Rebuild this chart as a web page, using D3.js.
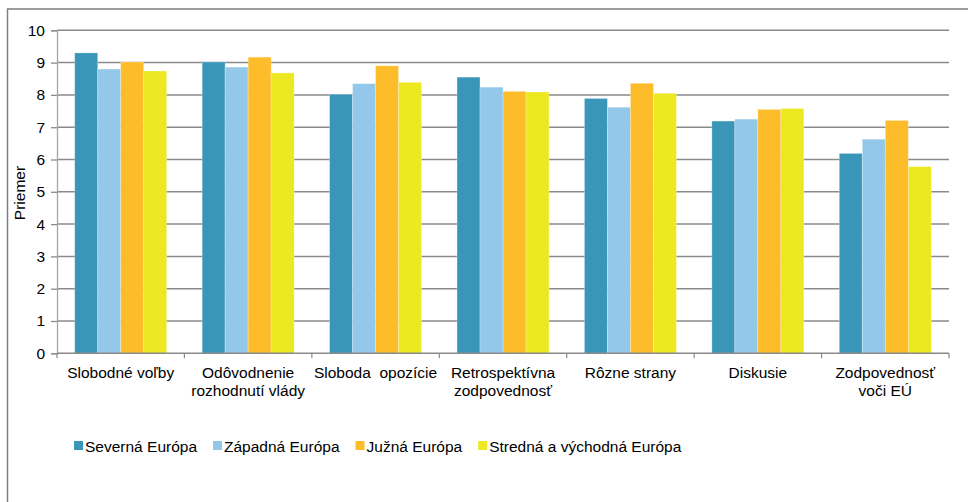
<!DOCTYPE html>
<html><head><meta charset="utf-8">
<script src="https://cdn.jsdelivr.net/npm/d3@7"></script>
<style>body{margin:0;background:#fff;}svg{display:block;font-family:"Liberation Sans",Arial,sans-serif;}text{white-space:pre;}</style>
</head><body>
<svg id="c" width="968" height="502"></svg>
<script>
const categories = [["Slobodné voľby"],["Odôvodnenie","rozhodnutí vlády"],["Sloboda  opozície"],["Retrospektívna","zodpovednosť"],["Rôzne strany"],["Diskusie"],["Zodpovednosť","voči EÚ"]];
const seriesNames = ["Severná Európa","Západná Európa","Južná Európa","Stredná a východná Európa"];
const severna  = [9.30, 9.02, 8.02, 8.55, 7.89, 7.19, 6.19];
const zapadna  = [8.80, 8.86, 8.35, 8.24, 7.62, 7.25, 6.63];
const juzna    = [9.02, 9.17, 8.90, 8.11, 8.36, 7.55, 7.21];
const stredna  = [8.74, 8.68, 8.39, 8.09, 8.05, 7.58, 5.78];
const yTicks = [0,1,2,3,4,5,6,7,8,9,10];
const colors = ["#3A96B8","#93C8EA","#FDBC2A","#ECE822"];
const series = [severna, zapadna, juzna, stredna];

const svg = d3.select("#c");
svg.append("rect").attr("x",7.5).attr("y",9).attr("width",1000).attr("height",600)
  .attr("fill","none").attr("stroke","#7f7f7f").attr("stroke-width",1.5);

const L=57, R=949, T=30.3, B=353.3;
const FS = 15.5;
const y = d3.scaleLinear().domain([0,10]).range([B,T]);
const keys = categories.map((c,i)=>i);
const x0 = d3.scaleBand().domain(keys).range([L,R]).paddingInner(0.278).paddingOuter(0.139);
const x1 = d3.scaleBand().domain(d3.range(4)).range([0,x0.bandwidth()]);

svg.append("g").selectAll("line").data(yTicks.filter(d=>d>0)).join("line")
  .attr("x1",L).attr("x2",R).attr("y1",d=>y(d)).attr("y2",d=>y(d))
  .attr("stroke","#8a8a8a").attr("stroke-width",1.5);

const g = svg.append("g");
keys.forEach(i=>{
  series.forEach((s,j)=>{
    g.append("rect").attr("x",x0(i)+x1(j)).attr("y",y(s[i]))
      .attr("width",x1.bandwidth()).attr("height",B-y(s[i]))
      .attr("fill",colors[j]).attr("stroke","rgba(255,255,255,0.35)").attr("stroke-width",0.8);
  });
});

const ya = svg.append("g").attr("transform",`translate(${L},0)`)
  .call(d3.axisLeft(y).tickValues(yTicks).tickSize(6).tickPadding(6));
ya.select(".domain").attr("stroke","#a6a6a6").attr("stroke-width",1.3);
ya.selectAll(".tick line").attr("stroke","#8a8a8a").attr("stroke-width",1.3);
ya.selectAll("text").attr("font-size",FS).attr("fill","#000").attr("font-family","Liberation Sans, Arial");

svg.append("line").attr("x1",L).attr("x2",R).attr("y1",B).attr("y2",B).attr("stroke","#8a8a8a").attr("stroke-width",1.5);
const bounds = keys.map(i=>x0(i)-x0.step()*0.139).concat([R]);
svg.append("g").selectAll("line").data(bounds).join("line")
  .attr("x1",d=>d).attr("x2",d=>d).attr("y1",B).attr("y2",B+5).attr("stroke","#8a8a8a").attr("stroke-width",1.2);

keys.forEach(i=>{
  const cx = x0(i)+x0.bandwidth()/2;
  const t = svg.append("text").attr("x",cx).attr("y",378).attr("text-anchor","middle")
    .attr("font-size",FS).attr("fill","#000");
  categories[i].forEach((ln,k)=>{
    t.append("tspan").attr("x",cx).attr("dy",k===0?0:18).text(ln);
  });
});

svg.append("text").attr("transform","translate(25,193) rotate(-90)").attr("text-anchor","middle")
  .attr("font-size",FS).attr("fill","#000").text("Priemer");

let lx = 74;
seriesNames.forEach((n,j)=>{
  svg.append("rect").attr("x",lx).attr("y",441).attr("width",9).attr("height",9).attr("fill",colors[j]);
  const t = svg.append("text").attr("x",lx+11).attr("y",451.5).attr("font-size",FS).attr("fill","#000").text(n);
  lx += 11 + t.node().getComputedTextLength() + 16;
});
</script>
</body></html>
